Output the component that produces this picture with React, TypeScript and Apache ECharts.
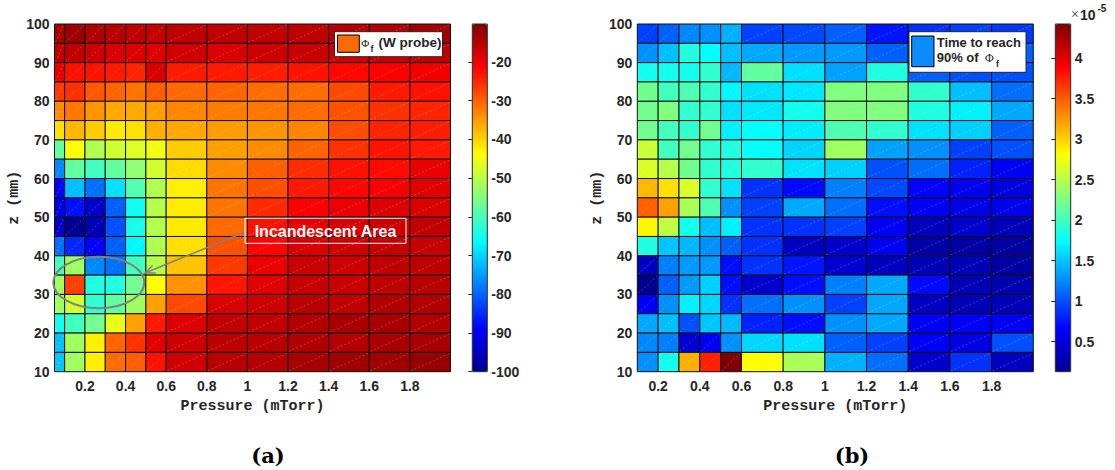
import React, { useEffect, useRef } from "react";
import * as echarts from "echarts";

// ---- data ----
const leftPressureEdges = [0.05, 0.1, 0.2, 0.3, 0.4, 0.5, 0.6, 0.8, 1.0, 1.2, 1.4, 1.6, 1.8, 2.0];
const rightPressureEdges = [0.1, 0.2, 0.3, 0.4, 0.5, 0.6, 0.8, 1.0, 1.2, 1.4, 1.6, 1.8, 2.0];
const zEdges = [10, 15, 20, 25, 30, 35, 40, 45, 50, 55, 60, 65, 70, 75, 80, 85, 90, 95, 100];
const pressureTicks = [0.2, 0.4, 0.6, 0.8, 1, 1.2, 1.4, 1.6, 1.8];
const fluxTicks = [-100, -90, -80, -70, -60, -50, -40, -30, -20];
const timeTicks = [0.5, 1, 1.5, 2, 2.5, 3, 3.5, 4];
const fluxRange = [-100, -10.2];
const timeRange = [0.13, 4.42]; // x 1e-5

// rows listed from top (z = 95-100 mm) to bottom (z = 10-15 mm)
const fluxRows = [
  [-13.7, -12.7, -14.4, -15.2, -15.9, -16.3, -15.9, -15.9, -15.9, -15.6, -15.2, -14.8, -13.3],
  [-15.9, -15.9, -16.9, -18.0, -18.3, -18.7, -17.2, -18.0, -16.9, -16.5, -17.2, -16.5, -15.9],
  [-19.6, -22.9, -23.0, -23.6, -24.5, -18.0, -23.6, -23.6, -24.0, -23.0, -22.0, -21.4, -20.3],
  [-26.3, -25.7, -29.1, -30.2, -31.6, -29.6, -30.6, -30.2, -31.0, -31.0, -27.8, -23.6, -22.9],
  [-33.7, -31.9, -34.4, -36.3, -36.3, -35.5, -33.3, -32.3, -31.9, -31.0, -28.6, -25.7, -24.5],
  [-41.2, -37.6, -39.4, -42.0, -41.2, -36.9, -36.3, -35.1, -34.6, -33.0, -28.3, -24.5, -24.0],
  [-57.9, -43.9, -50.9, -48.0, -47.0, -45.2, -39.4, -35.5, -33.7, -30.2, -25.7, -23.0, -23.6],
  [-76.8, -57.9, -60.7, -57.9, -53.7, -48.0, -40.8, -33.7, -29.7, -25.3, -22.9, -22.2, -19.6],
  [-88.8, -71.9, -78.9, -69.0, -59.3, -50.9, -42.5, -31.6, -28.3, -23.6, -21.9, -20.7, -18.7],
  [-91.1, -87.4, -93.9, -80.4, -65.0, -50.5, -42.2, -31.6, -25.0, -21.4, -19.6, -18.4, -18.0],
  [-94.3, -100.0, -96.0, -81.8, -64.5, -50.5, -42.0, -30.6, -22.9, -19.6, -18.0, -16.9, -15.9],
  [-78.9, -85.3, -88.8, -80.4, -66.9, -50.9, -41.2, -28.6, -21.7, -18.0, -17.2, -16.2, -16.2],
  [-60.7, -52.3, -76.8, -78.9, -60.7, -50.5, -38.6, -26.3, -19.6, -16.5, -16.9, -15.9, -15.6],
  [-52.3, -27.0, -63.5, -63.5, -56.5, -43.9, -34.2, -23.3, -18.7, -16.2, -16.5, -15.6, -15.2],
  [-52.3, -48.0, -62.1, -57.9, -52.3, -35.5, -27.8, -18.0, -16.9, -15.2, -15.9, -14.4, -14.4],
  [-65.0, -60.7, -56.5, -45.9, -35.5, -23.6, -18.3, -15.9, -15.9, -14.4, -13.7, -13.7, -14.4],
  [-71.9, -52.3, -42.5, -30.2, -25.7, -18.7, -16.9, -15.5, -15.2, -14.4, -14.8, -13.7, -13.7],
  [-71.4, -52.3, -42.5, -30.9, -29.7, -22.9, -17.2, -15.2, -14.8, -13.7, -13.0, -13.0, -12.3],
];

// time to reach 90% of flux, x 1e-5 s; rows from top to bottom
const timeRows = [
  [0.94, 1.07, 1.24, 1.27, 1.41, 0.94, 0.97, 1.07, 0.75, 0.87, 0.94, 0.9],
  [1.27, 1.47, 1.87, 1.74, 1.47, 1.37, 1.31, 1.31, 1.07, 1.13, 1.07, 1.07],
  [1.81, 1.81, 1.81, 1.94, 1.44, 2.14, 1.61, 1.34, 1.87, 1.07, 1.0, 1.0],
  [2.21, 2.01, 2.07, 1.94, 1.71, 1.61, 1.64, 2.28, 2.28, 1.94, 1.47, 1.13],
  [2.21, 2.28, 1.94, 1.94, 1.61, 1.64, 1.81, 2.28, 2.28, 1.87, 1.68, 1.37],
  [2.21, 2.01, 1.94, 2.21, 1.68, 1.74, 1.66, 2.07, 1.94, 1.61, 1.54, 1.07],
  [2.58, 2.01, 2.21, 1.94, 1.87, 1.74, 1.56, 2.41, 1.34, 1.27, 0.94, 1.0],
  [2.65, 2.5, 2.21, 1.94, 1.87, 1.94, 1.62, 1.54, 1.0, 1.13, 0.8, 0.62],
  [3.11, 2.94, 2.65, 1.94, 1.61, 0.87, 0.7, 1.2, 0.97, 0.65, 0.6, 0.5],
  [3.48, 3.21, 2.45, 2.07, 1.27, 0.94, 1.37, 1.13, 0.72, 0.63, 0.55, 0.57],
  [2.85, 2.54, 1.81, 1.47, 1.68, 0.87, 0.87, 0.94, 0.62, 0.35, 0.42, 0.32],
  [1.87, 1.5, 1.44, 1.27, 1.07, 0.87, 0.36, 0.42, 0.6, 0.25, 0.22, 0.22],
  [0.36, 1.2, 1.31, 1.31, 0.72, 0.87, 0.75, 0.46, 0.36, 0.32, 0.32, 0.22],
  [0.13, 1.07, 1.31, 1.54, 0.72, 0.42, 0.72, 1.2, 1.37, 0.7, 0.32, 0.28],
  [0.62, 1.27, 1.68, 1.57, 0.87, 1.13, 1.27, 0.94, 1.37, 0.38, 0.32, 0.32],
  [1.37, 1.47, 1.0, 1.5, 1.44, 0.8, 0.72, 1.27, 1.37, 0.64, 0.64, 0.62],
  [1.24, 1.2, 0.46, 0.62, 1.27, 1.57, 1.61, 1.07, 0.94, 0.62, 0.53, 1.0],
  [1.27, 1.81, 3.15, 3.75, 4.42, 2.81, 2.45, 1.41, 1.13, 0.42, 0.87, 0.36],
];

const JET = ["#00008F", "#0000FF", "#0080FF", "#00FFFF", "#80FF80", "#FFFF00", "#FF8000", "#FF0000", "#800000"];
const TXT = "#262626";
const SANS = "Liberation Sans";

function buildCells(xEdges: number[], zs: number[], rows: number[][]) {
  const out: number[][] = [];
  const n = rows.length;
  rows.forEach((row, r) => {
    const z0 = zs[n - 1 - r];
    const z1 = zs[n - r];
    row.forEach((v, c) => out.push([xEdges[c], xEdges[c + 1], z0, z1, v]));
  });
  return out;
}

const renderCell = (params: any, api: any) => {
  const a = api.coord([api.value(0), api.value(2)]);
  const b = api.coord([api.value(1), api.value(3)]);
  const color = api.visual("color");
  return {
    type: "group",
    children: [
      {
        type: "rect",
        shape: { x: a[0], y: b[1], width: b[0] - a[0], height: a[1] - b[1] },
        style: { fill: color, stroke: "#111", lineWidth: 1 },
      },
      {
        type: "line",
        shape: { x1: a[0] + 1, y1: a[1] - 1, x2: b[0] - 1, y2: b[1] + 1 },
        style: { stroke: "rgba(255,255,255,0.4)", lineWidth: 0.6, lineDash: [2, 2] },
        silent: true,
      },
    ],
  };
};

const G0 = { left: 54.5, top: 24, width: 396, height: 347.7 };
const G1 = { left: 637.3, top: 24, width: 396, height: 347.7 };
const C0 = { left: 472.3, top: 24, width: 15, height: 347.7 };
const C1 = { left: 1055.3, top: 24, width: 15.4, height: 347.7 };

const tickLabel = { fontSize: 14, fontWeight: "bold" as const, color: TXT, fontFamily: SANS };
const nameStyle = { fontFamily: "Liberation Mono", fontWeight: "bold" as const, fontSize: 15, color: TXT };

function mainX(gridIndex: number, min: number) {
  return {
    type: "value",
    gridIndex,
    min,
    max: 2,
    axisLine: { show: false },
    axisTick: { show: false },
    splitLine: { show: false },
    axisLabel: { ...tickLabel, customValues: pressureTicks, margin: 7 },
    name: "Pressure (mTorr)",
    nameLocation: "middle",
    nameGap: 27,
    nameTextStyle: nameStyle,
  };
}
function mainY(gridIndex: number, gap: number) {
  return {
    type: "value",
    gridIndex,
    min: 10,
    max: 100,
    interval: 10,
    axisLine: { show: false },
    axisTick: { show: false },
    splitLine: { show: false },
    axisLabel: { ...tickLabel, margin: 5 },
    name: "z (mm)",
    nameLocation: "middle",
    nameGap: gap,
    nameRotate: 90,
    nameTextStyle: nameStyle,
  };
}
function barY(gridIndex: number, range: number[], ticks: number[]) {
  return {
    type: "value",
    gridIndex,
    min: range[0],
    max: range[1],
    position: "right",
    axisLine: { show: false },
    splitLine: { show: false },
    axisTick: { show: true, inside: true, length: 4, customValues: ticks, lineStyle: { color: TXT, width: 1 } },
    axisLabel: { ...tickLabel, customValues: ticks, margin: 4 },
  };
}

export default function App() {
  const ref = useRef<HTMLDivElement>(null);
  useEffect(() => {
    if (!ref.current) return;
    const chart = echarts.init(ref.current, null, { renderer: "svg" });
    const arrowTip = [145, 273];
    const option: any = {
      animation: false,
      backgroundColor: "#fff",
      grid: [
        { ...G0 },
        { ...G1 },
        { ...C0, show: true, borderColor: TXT, borderWidth: 1, backgroundColor: "transparent", z: 10 },
        { ...C1, show: true, borderColor: TXT, borderWidth: 1, backgroundColor: "transparent", z: 10 },
      ],
      xAxis: [
        mainX(0, leftPressureEdges[0]),
        mainX(1, rightPressureEdges[0]),
        { type: "value", gridIndex: 2, show: false, min: 0, max: 1 },
        { type: "value", gridIndex: 3, show: false, min: 0, max: 1 },
      ],
      yAxis: [mainY(0, 30), mainY(1, 32), barY(2, fluxRange, fluxTicks), barY(3, timeRange, timeTicks)],
      visualMap: [
        {
          type: "continuous",
          seriesIndex: 0,
          dimension: 4,
          min: fluxRange[0],
          max: fluxRange[1],
          inRange: { color: JET },
          calculable: false,
          hoverLink: false,
          left: C0.left,
          top: C0.top,
          itemWidth: C0.width,
          itemHeight: C0.height,
          padding: 0,
          text: null,
        },
        {
          type: "continuous",
          seriesIndex: 1,
          dimension: 4,
          min: timeRange[0],
          max: timeRange[1],
          inRange: { color: JET },
          calculable: false,
          hoverLink: false,
          left: C1.left,
          top: C1.top,
          itemWidth: C1.width,
          itemHeight: C1.height,
          padding: 0,
          text: null,
        },
      ],
      series: [
        {
          type: "custom",
          name: "Φf (W probe)",
          xAxisIndex: 0,
          yAxisIndex: 0,
          renderItem: renderCell,
          encode: { x: [0, 1], y: [2, 3] },
          data: buildCells(leftPressureEdges, zEdges, fluxRows),
        },
        {
          type: "custom",
          name: "Time to reach 90% of Φf",
          xAxisIndex: 1,
          yAxisIndex: 1,
          renderItem: renderCell,
          encode: { x: [0, 1], y: [2, 3] },
          data: buildCells(rightPressureEdges, zEdges, timeRows),
        },
      ],
      graphic: [
        // legend (a)
        { type: "rect", z: 20, shape: { x: 334.5, y: 31.7, width: 108, height: 25 }, style: { fill: "#fff", stroke: TXT, lineWidth: 1 } },
        { type: "rect", z: 21, shape: { x: 337.5, y: 35, width: 21.8, height: 17.3 }, style: { fill: "#FF6A00", stroke: "#000", lineWidth: 1 } },
        { type: "text", z: 21, x: 361.3, y: 42.5, style: { text: "Φ", font: "11px 'Liberation Serif'", fill: TXT, verticalAlign: "middle" } },
        { type: "text", z: 21, x: 370.6, y: 49, style: { text: "f", font: "bold 9px 'Liberation Sans'", fill: TXT, verticalAlign: "middle" } },
        { type: "text", z: 21, x: 378.5, y: 42, style: { text: "(W probe)", font: "bold 13.5px 'Liberation Sans'", fill: TXT, verticalAlign: "middle" } },
        // legend (b)
        { type: "rect", z: 20, shape: { x: 909, y: 31.7, width: 117, height: 40.6 }, style: { fill: "#fff", stroke: TXT, lineWidth: 1 } },
        { type: "rect", z: 21, shape: { x: 911.7, y: 36, width: 22.3, height: 30.7 }, style: { fill: "#0A8CFF", stroke: "#000", lineWidth: 1 } },
        { type: "text", z: 21, x: 936.7, y: 42, style: { text: "Time to reach", font: "bold 13px 'Liberation Sans'", fill: TXT, verticalAlign: "middle" } },
        { type: "text", z: 21, x: 936.7, y: 57, style: { text: "90% of", font: "bold 13px 'Liberation Sans'", fill: TXT, verticalAlign: "middle" } },
        { type: "text", z: 21, x: 985, y: 57.5, style: { text: "Φ", font: "12px 'Liberation Serif'", fill: TXT, verticalAlign: "middle" } },
        { type: "text", z: 21, x: 996, y: 64, style: { text: "f", font: "bold 9px 'Liberation Sans'", fill: TXT, verticalAlign: "middle" } },
        // x 10^-5
        { type: "text", z: 21, x: 1071, y: 14.5, style: { text: "×", font: "14px 'Liberation Serif'", fill: TXT, verticalAlign: "middle" } },
        { type: "text", z: 21, x: 1080, y: 14.5, style: { text: "10", font: "bold 14px 'Liberation Sans'", fill: TXT, verticalAlign: "middle" } },
        { type: "text", z: 21, x: 1097.5, y: 8.5, style: { text: "-5", font: "bold 10px 'Liberation Sans'", fill: TXT, verticalAlign: "middle" } },
        // annotation
        { type: "ellipse", z: 22, shape: { cx: 98.8, cy: 282.5, rx: 45.5, ry: 25.8 }, style: { fill: "none", stroke: "#808080", lineWidth: 2 } },
        { type: "line", z: 22, shape: { x1: 245, y1: 232, x2: arrowTip[0], y2: arrowTip[1] }, style: { stroke: "#808080", lineWidth: 1.5 } },
        { type: "polyline", z: 22, shape: { points: [[155.8, 273], arrowTip, [152.6, 265.5]] }, style: { fill: "none", stroke: "#808080", lineWidth: 1.5 } },
        { type: "rect", z: 22, shape: { x: 245, y: 218.3, width: 161, height: 25 }, style: { fill: "none", stroke: "#fff", lineWidth: 1 } },
        { type: "text", z: 22, x: 325.5, y: 231, style: { text: "Incandescent Area", font: "bold 16px 'Liberation Sans'", fill: "#fff", align: "center", verticalAlign: "middle" } },
        // subfigure labels
        { type: "text", z: 22, x: 268, y: 455, style: { text: "(a)", font: "bold 21px 'DejaVu Serif'", fill: "#000", align: "center", verticalAlign: "middle" } },
        { type: "text", z: 22, x: 852, y: 455, style: { text: "(b)", font: "bold 21px 'DejaVu Serif'", fill: "#000", align: "center", verticalAlign: "middle" } },
      ],
    };
    chart.setOption(option);
    return () => chart.dispose();
  }, []);
  return <div ref={ref} style={{ position: "absolute", left: 0, top: 0, width: 1115, height: 470 }} />;
}
